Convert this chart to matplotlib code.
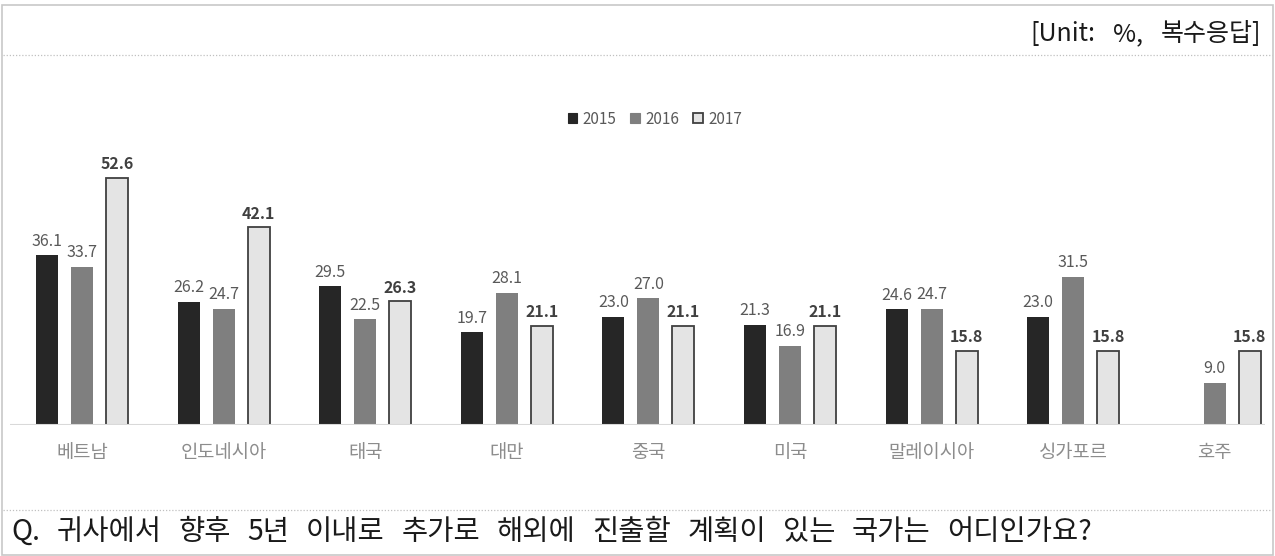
import numpy as np
import matplotlib
matplotlib.use("Agg")
import matplotlib.pyplot as plt
from matplotlib.patches import Rectangle
from matplotlib.lines import Line2D

plt.rcParams['font.family'] = ['Noto Sans CJK KR', 'DejaVu Sans']

categories = ['베트남', '인도네시아', '태국', '대만', '중국', '미국', '말레이시아', '싱가포르', '호주']
series_names = ['2015', '2016', '2017']
v2015 = [36.1, 26.2, 29.5, 19.7, 23.0, 21.3, 24.6, 23.0, np.nan]
v2016 = [33.7, 24.7, 22.5, 28.1, 27.0, 16.9, 24.7, 31.5, 9.0]
v2017 = [52.6, 42.1, 26.3, 21.1, 21.1, 21.1, 15.8, 15.8, 15.8]
unit_text = '[Unit: %, 복수응답]'
question = 'Q. 귀사에서 향후 5년 이내로 추가로 해외에 진출할 계획이 있는 국가는 어디인가요?'

W, H = 1275, 556
fig = plt.figure(figsize=(W / 100, H / 100), dpi=100)
renderer = fig.canvas.get_renderer()


def justified(text, x_start, x_end, y, fontsize, color):
    """Draw a line of words spread evenly between x_start and x_end (pixels)."""
    words = text.split(' ')
    arts = [fig.text(0, 1 - y / H, w, ha='left', va='center', fontsize=fontsize, color=color)
            for w in words]
    widths = [a.get_window_extent(renderer).width for a in arts]
    gap = (x_end - x_start - sum(widths)) / max(len(words) - 1, 1)
    xx = x_start
    for a, wd in zip(arts, widths):
        a.set_x(xx / W)
        xx += wd + gap


# frame & separators
fig.add_artist(Rectangle((2 / W, 1 / H), (W - 4) / W, (H - 6) / H, transform=fig.transFigure,
                         fill=False, edgecolor='#c8c8c8', linewidth=1.2))
for yy in (55, 510):
    fig.add_artist(Line2D([3 / W, (W - 3) / W], [1 - yy / H, 1 - yy / H], transform=fig.transFigure,
                          color='#c0c0c0', linewidth=0.9, linestyle=(0, (1, 1.5))))

justified(unit_text, 1030, 1261, 34, 18, '#1a1a1a')
justified(question, 11, 1092, 532, 20.5, '#1a1a1a')

# axes
left_px, right_px, base_px, top_px = 10, 1265, 425, 100
ax = fig.add_axes([left_px / W, 1 - base_px / H, (right_px - left_px) / W, (base_px - top_px) / H])
px_per_cat = 141.6
x0 = (left_px - 82) / px_per_cat
ax.set_xlim(x0, x0 + (right_px - left_px) / px_per_cat)
ax.set_ylim(0, (base_px - top_px) / 4.7)

x = np.arange(len(categories))
bw = 0.155
off = 0.247
colors = ['#262626', '#7f7f7f', '#e4e4e4']
edges = ['#262626', '#7f7f7f', '#404040']
lws = [0, 0, 1.3]
data = [v2015, v2016, v2017]
for i, (vals, c, ec, lw, name) in enumerate(zip(data, colors, edges, lws, series_names)):
    xs = x + (i - 1) * off
    ax.bar(xs, vals, width=bw, color=c, edgecolor=ec, linewidth=lw, label=name, zorder=3)
    for xi, v in zip(xs, vals):
        if np.isnan(v):
            continue
        if i == 2:
            ax.annotate(f'{v:.1f}', (xi, v), xytext=(0, 4), textcoords='offset points',
                        ha='center', va='bottom', fontsize=11.5, fontweight='bold', color='#404040')
        else:
            ax.annotate(f'{v:.1f}', (xi, v), xytext=(0, 4), textcoords='offset points',
                        ha='center', va='bottom', fontsize=11.5, color='#595959')

for s in ax.spines.values():
    s.set_visible(False)
ax.axhline(0, color='#d9d9d9', linewidth=1.5, zorder=4)
ax.set_yticks([])
ax.set_xticks(x)
ax.set_xticklabels(categories, fontsize=13.5, color='#8c8c8c')
ax.tick_params(axis='x', length=0, pad=12)

handles = [Rectangle((0, 0), 1, 1, facecolor=c, edgecolor=ec, linewidth=max(lw, 0.8))
           for c, ec, lw in zip(colors, edges, lws)]
fig.legend(handles, series_names, loc='center', bbox_to_anchor=(655 / W, 1 - 119 / H),
           ncol=3, frameon=False, fontsize=11, labelcolor='#595959',
           handlelength=0.65, handleheight=0.65, handletextpad=0.35, columnspacing=0.9)

fig.savefig('out.png', dpi=100)
